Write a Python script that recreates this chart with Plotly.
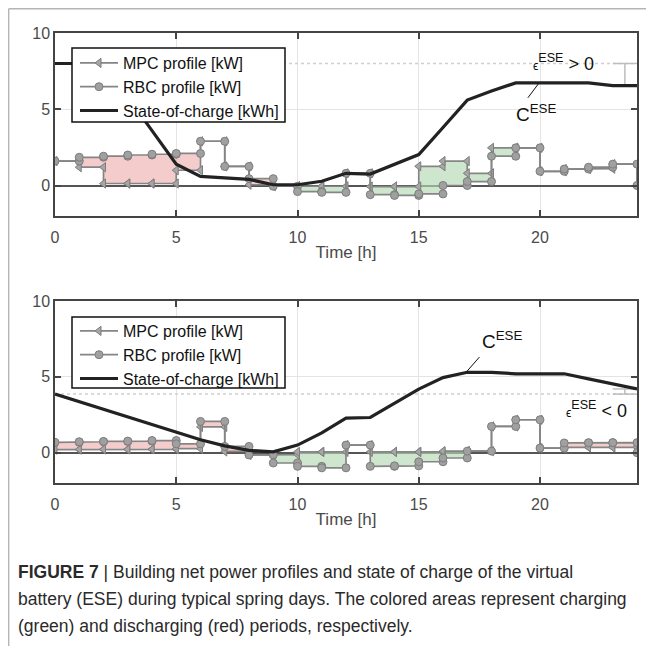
import plotly.graph_objects as go

# ---------------- data ----------------
hours = list(range(25))
x_ticks = [0, 5, 10, 15, 20]
y_ticks = [0, 5, 10]

# hourly net power (value held during [h, h+1])
mpc_top = [1.6, 1.2, 0.13, 0.13, 0.13, 1.0, 2.9, 1.25, 0.05, -0.05, -0.05, -0.05,
           0.8, -0.07, -0.07, 1.26, 1.6, 0.8, 2.47, 2.47, 0.93, 1.08, 1.1, 1.4]
rbc_top = [1.6, 1.85, 1.92, 2.0, 2.05, 2.1, 2.9, 1.25, 0.45, -0.05, -0.4, -0.45,
           0.8, -0.6, -0.65, -0.55, 0.0, 0.26, 1.92, 2.47, 0.93, 1.08, 1.2, 1.4]
soc_top = [8.0, 8.0, 7.3, 5.8, 3.6, 1.4, 0.6, 0.5, 0.4, 0.05, 0.05, 0.28, 0.8,
           0.75, 1.37, 2.03, 3.8, 5.6, 6.2, 6.73, 6.73, 6.73, 6.73, 6.55, 6.55]

mpc_bot = [0.2, 0.22, 0.22, 0.22, 0.22, 0.26, 1.7, 0.08, -0.15, -0.13, 0.05, 0.05,
           0.5, 0.05, 0.05, 0.05, 0.1, 0.1, 1.73, 2.17, 0.3, 0.35, 0.35, 0.35]
rbc_bot = [0.68, 0.72, 0.74, 0.76, 0.8, 0.58, 2.06, 0.41, -0.15, -0.68, -0.9, -1.0,
           0.5, -0.9, -0.87, -0.6, -0.35, 0.1, 1.73, 2.17, 0.3, 0.64, 0.66, 0.66]
soc_bot = [3.86, 3.35, 2.85, 2.35, 1.85, 1.35, 0.85, 0.45, 0.15, 0.05, 0.5, 1.3,
           2.28, 2.32, 3.27, 4.19, 4.95, 5.3, 5.3, 5.2, 5.2, 5.2, 4.87, 4.54, 4.2]

end_value = 0.0

# ---------------- style ----------------
FONT = "Liberation Sans, Arial, Helvetica, sans-serif"
# the page body has an 8px margin, so the figure is drawn 8px in from the window edge
OFF = 8
W, H = 654 - OFF, 646 - OFF
GREY_LINE = "#858585"
GREEN = "rgba(180,215,180,0.65)"
RED = "rgba(238,170,170,0.6)"


def fx(px):
    return (px - OFF) / W


def fy(py):
    return 1 - (py - OFF) / H


def stairs(vals, end=None):
    xs, ys = [], []
    for i, v in enumerate(vals):
        xs += [i, i + 1]
        ys += [v, v]
    if end is not None:
        xs.append(len(vals))
        ys.append(end)
    return xs, ys


fig = go.Figure()


def add_panel(mpc, rbc, soc, xa, ya, legend):
    xs, _ = stairs(mpc)
    lo = [min(m, r) for m, r in zip(mpc, rbc)]
    gr = [m if m > r else min(m, r) for m, r in zip(mpc, rbc)]
    rd = [r if r > m else min(m, r) for m, r in zip(mpc, rbc)]
    _, ylo = stairs(lo)
    _, ygr = stairs(gr)
    _, yrd = stairs(rd)
    common = dict(xaxis=xa, yaxis=ya, showlegend=False, hoverinfo="skip", mode="lines")
    fig.add_trace(go.Scatter(x=xs, y=ylo, line=dict(width=0), **common))
    fig.add_trace(go.Scatter(x=xs, y=ygr, line=dict(width=0), fill="tonexty",
                             fillcolor=GREEN, **common))
    fig.add_trace(go.Scatter(x=xs, y=ylo, line=dict(width=0), **common))
    fig.add_trace(go.Scatter(x=xs, y=yrd, line=dict(width=0), fill="tonexty",
                             fillcolor=RED, **common))
    # initial SOC reference (dotted)
    fig.add_trace(go.Scatter(x=[0, 24], y=[soc[0], soc[0]], mode="lines",
                             line=dict(color="#cfcfcf", width=1.5, dash="dot"),
                             xaxis=xa, yaxis=ya, showlegend=False, hoverinfo="skip"))
    # epsilon bracket
    fig.add_trace(go.Scatter(x=[23, 24, None, 23.5, 23.5, None, 23, 24],
                             y=[soc[0], soc[0], None, soc[0], soc[-1], None, soc[-1], soc[-1]],
                             mode="lines", line=dict(color="#bdbdbd", width=1.5),
                             xaxis=xa, yaxis=ya, showlegend=False, hoverinfo="skip"))
    mx, my = stairs(mpc, end_value)
    rx, ry = stairs(rbc, end_value)
    fig.add_trace(go.Scatter(x=mx, y=my, mode="lines+markers", name="MPC profile [kW]",
                             line=dict(color=GREY_LINE, width=1.7),
                             marker=dict(symbol="triangle-left", size=8, color="#a6a6a6",
                                         line=dict(color="#7d7d7d", width=1)),
                             xaxis=xa, yaxis=ya, legend=legend))
    fig.add_trace(go.Scatter(x=rx, y=ry, mode="lines+markers", name="RBC profile [kW]",
                             line=dict(color=GREY_LINE, width=1.7),
                             marker=dict(symbol="circle", size=8, color="#a0a0a0",
                                         line=dict(color="#7d7d7d", width=1)),
                             xaxis=xa, yaxis=ya, legend=legend))
    fig.add_trace(go.Scatter(x=hours, y=soc, mode="lines", name="State-of-charge [kWh]",
                             line=dict(color="#222222", width=3.2),
                             xaxis=xa, yaxis=ya, legend=legend))


add_panel(mpc_top, rbc_top, soc_top, "x", "y", "legend")
add_panel(mpc_bot, rbc_bot, soc_bot, "x2", "y2", "legend2")

x_dom = [fx(55), fx(637)]
top_dom = [fy(216), fy(33)]
bot_dom = [fy(483), fy(301)]

axis_common = dict(showline=True, linecolor="#444444", linewidth=1.5, mirror="ticks",
                   ticks="inside", ticklen=6, tickwidth=1.5, tickcolor="#444444",
                   showgrid=True, gridcolor="#e4e4e4", gridwidth=1,
                   tickfont=dict(family=FONT, size=16, color="#4a4a4a"),
                   automargin=False)

xcommon = dict(axis_common, range=[0, 24], tickvals=x_ticks, zeroline=False,
               ticklabelstandoff=6,
               title=dict(text="Time [h]", font=dict(family=FONT, size=17, color="#4a4a4a"),
                          standoff=1))
ycommon = dict(axis_common, range=[-2, 10], tickvals=y_ticks, zeroline=True,
               zerolinecolor="#555555", zerolinewidth=1.6)

legend_common = dict(bgcolor="rgba(0,0,0,0)", borderwidth=0,
                     font=dict(family=FONT, size=16, color="#111111"),
                     xanchor="left", yanchor="top", tracegroupgap=0,
                     traceorder="normal", itemwidth=38)

ann = []
ann_font = dict(family=FONT, color="#111111")
ann.append(dict(x=19.85, y=4.75, xref="x", yref="y", showarrow=False,
                text="C<sup>ESE</sup>", font=dict(ann_font, size=19)))
ann.append(dict(x=20.95, y=8.05, xref="x", yref="y", showarrow=False,
                text="<span style='font-size:12px'>ϵ</span><sup>ESE</sup> > 0",
                font=dict(ann_font, size=18)))
ann.append(dict(x=18.45, y=7.45, xref="x2", yref="y2", showarrow=False,
                text="C<sup>ESE</sup>", font=dict(ann_font, size=19)))
ann.append(dict(x=22.35, y=2.85, xref="x2", yref="y2", showarrow=False,
                text="<span style='font-size:12px'>ϵ</span><sup>ESE</sup> < 0",
                font=dict(ann_font, size=18)))

cap_font = dict(family=FONT, size=17.5, color="#2a2a2a")
cap_lines = ["<b>FIGURE 7</b> | Building net power profiles and state of charge of the virtual",
             "battery (ESE) during typical spring days. The colored areas represent charging",
             "(green) and discharging (red) periods, respectively."]
for k, line in enumerate(cap_lines):
    ann.append(dict(x=fx(16), y=fy(572 + 27 * k), xref="paper", yref="paper",
                    xanchor="left", yanchor="middle", showarrow=False, align="left",
                    text=line, font=cap_font))

legend_box = dict(type="rect", xref="paper", yref="paper", layer="above",
                  fillcolor="white", line=dict(color="#111111", width=1.5))

shapes = [
    dict(legend_box, x0=fx(72), x1=fx(285), y0=fy(122), y1=fy(48)),
    dict(legend_box, x0=fx(72), x1=fx(285), y0=fy(388), y1=fy(317)),
    dict(type="line", xref="x", yref="y", x0=19.5, y0=5.75, x1=19.95, y1=6.7,
         line=dict(color="#111111", width=1)),
    dict(type="line", xref="x2", yref="y2", x0=16.98, y0=5.35, x1=17.5, y1=6.3,
         line=dict(color="#111111", width=1)),
    dict(type="line", xref="paper", yref="paper", x0=0.001, x1=0.001, y0=0, y1=0.999,
         line=dict(color="#b5b5b5", width=1.5)),
    dict(type="line", xref="paper", yref="paper", x0=0.001, x1=1, y0=0.999, y1=0.999,
         line=dict(color="#b5b5b5", width=1.5)),
]

fig.update_layout(
    template="none",
    width=W, height=H,
    margin=dict(l=0, r=0, t=0, b=0),
    paper_bgcolor="white", plot_bgcolor="white",
    xaxis=dict(xcommon, domain=x_dom, anchor="y"),
    yaxis=dict(ycommon, domain=top_dom, anchor="x"),
    xaxis2=dict(xcommon, domain=x_dom, anchor="y2"),
    yaxis2=dict(ycommon, domain=bot_dom, anchor="x2"),
    legend=dict(legend_common, x=fx(75), y=fy(46)),
    legend2=dict(legend_common, x=fx(75), y=fy(314)),
    annotations=ann,
    shapes=shapes,
    font=dict(family=FONT),
)

fig.write_html("out.html")
